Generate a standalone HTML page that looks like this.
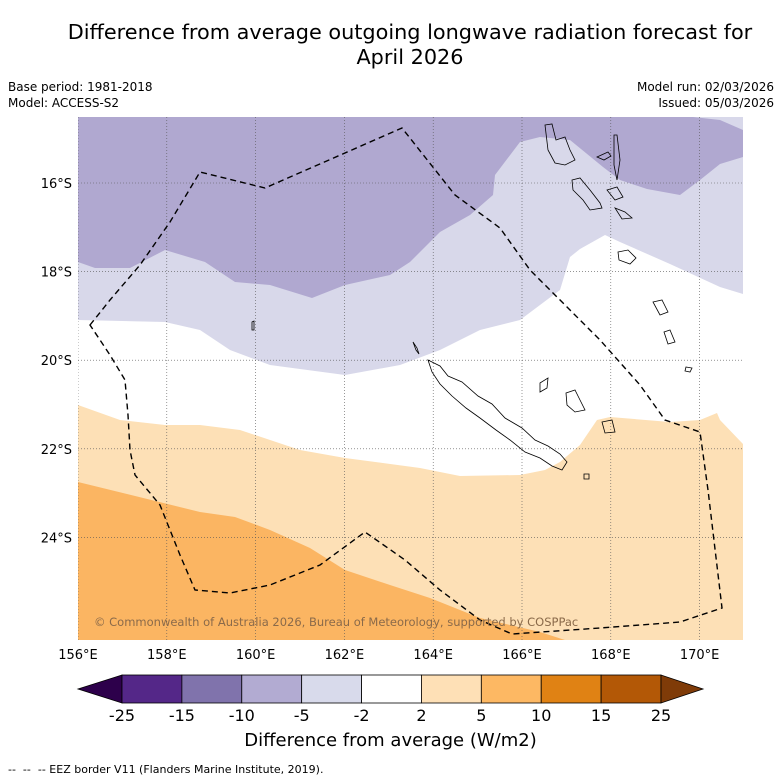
<!DOCTYPE html>
<html><head><meta charset="utf-8"><style>
body{margin:0;background:#fff;font-family:"DejaVu Sans",sans-serif;}
#wrap{position:relative;width:781px;height:781px;overflow:hidden;}
.t{position:absolute;white-space:nowrap;color:#000;}
</style></head><body>
<div id="wrap">
<div class="t" style="left:0;width:820px;top:20px;font-size:20.8px;text-align:center;line-height:25px;">Difference from average outgoing longwave radiation forecast for<br>April 2026</div>
<div class="t" style="left:8px;top:80px;font-size:12px;">Base period: 1981-2018</div>
<div class="t" style="left:8px;top:96px;font-size:12px;">Model: ACCESS-S2</div>
<div class="t" style="right:7px;top:80px;font-size:12px;">Model run: 02/03/2026</div>
<div class="t" style="right:7px;top:96px;font-size:12px;">Issued: 05/03/2026</div>
<svg id="svg" width="781" height="781" style="position:absolute;left:0;top:0">
<defs><clipPath id="mc"><rect x="78" y="117" width="665" height="523"/></clipPath></defs>
<g clip-path="url(#mc)">
<rect x="78" y="117" width="665" height="523" fill="#fff"/>
<path fill="#d8d8ea" d="M78,117 L743,117 L743,294 L720,287 L670,264 L620,242 L605,235 L580,249 L570,257 L560,290 L520,320 L480,330 L440,350 L400,365 L345,375 L270,365 L230,350 L200,330 L165,322 L78,320 Z"/>
<path fill="#b0a8d0" d="M78,117 L693,117 L720,120 L743,130 L743,157 L720,164 L700,180 L680,195 L647,189 L620,180 L603,167 L570,140 L540,137 L520,142 L495,175 L493,195 L470,215 L440,232 L410,262 L390,275 L345,285 L312,298 L270,285 L235,282 L205,262 L165,250 L130,268 L95,268 L78,262 Z"/>
<path fill="#fde0b6" d="M78,405 L120,420 L165,425 L200,425 L240,430 L300,450 L345,458 L420,468 L460,476 L520,475 L545,470 L560,462 L580,445 L597,420 L610,417 L670,422 L700,420 L717,413 L720,420 L743,444 L743,640 L78,640 Z"/>
<path fill="#fbb562" d="M78,482 L200,512 L235,517 L270,530 L310,548 L345,570 L390,585 L430,598 L480,618 L540,632 L565,640 L78,640 Z"/>
<g id="grid" stroke="#555" stroke-width="0.6" stroke-dasharray="1,2" fill="none"></g>
<g fill="none" stroke="#000" stroke-width="0.8">
<path d="M428,360 L440,366 L448,376 L462,382 L478,396 L492,404 L505,418 L522,428 L535,440 L548,446 L560,454 L567,462 L562,470 L552,466 L540,458 L525,452 L510,440 L496,430 L480,418 L466,408 L452,396 L440,384 L432,372 Z"/>
<path d="M545,125 L552,124 L556,140 L565,137 L570,150 L575,160 L565,165 L555,163 L548,150 Z"/>
<path d="M572,180 L580,178 L590,190 L600,203 L602,208 L590,210 L583,200 L573,190 Z"/>
<path d="M614,135 L617,135 L620,160 L617,180 L614,165 Z"/>
<path d="M597,157 L608,152 L611,156 L604,160 Z"/>
<path d="M607,190 L617,187 L623,197 L615,200 Z"/>
<path d="M615,208 L625,212 L632,218 L622,219 Z"/>
<path d="M618,252 L628,250 L636,258 L630,264 L619,260 Z"/>
<path d="M653,302 L662,300 L668,312 L660,315 Z"/>
<path d="M664,332 L670,330 L675,342 L668,344 Z"/>
<path d="M686,367 L692,368 L690,372 L685,371 Z"/>
<path d="M566,393 L575,390 L580,400 L585,410 L575,412 L567,405 Z"/>
<path d="M540,383 L548,378 L547,388 L540,392 Z"/>
<path d="M602,422 L612,420 L615,432 L605,433 Z"/>
<path d="M584,474 L589,474 L589,479 L584,479 Z"/>
<path d="M413,342 L417,348 L419,354 L416,350 Z"/>
<path d="M252,322 L254,321 L254,330 L252,330 Z"/>
</g>
<path fill="none" stroke="#000" stroke-width="1.4" stroke-dasharray="6,4" d="M90,325 L110,300 L140,265 L170,222 L200,172 L265,188 L402,128 L455,195 L500,228 L530,270 L570,310 L600,340 L640,385 L665,420 L700,432 L708,490 L722,608 L680,622 L600,628 L512,634 L480,620 L440,590 L405,560 L365,532 L320,565 L270,585 L230,593 L195,590 L180,555 L160,505 L135,475 L130,450 L128,415 L125,380 L110,355 Z"/>
<text x="94" y="626" font-size="11.5" fill="#8a6a4a" font-family="DejaVu Sans, sans-serif">© Commonwealth of Australia 2026, Bureau of Meteorology, supported by COSPPac</text>
</g>
<g id="axes" font-size="13" font-family="DejaVu Sans, sans-serif"></g>
<g id="cbar"></g>
</svg>
<div class="t" style="left:0;width:781px;text-align:center;top:730px;font-size:18px;">Difference from average (W/m2)</div>
<div class="t" style="left:8px;top:763px;font-size:11px;">--&nbsp; --&nbsp; -- EEZ border V11 (Flanders Marine Institute, 2019).</div>
</div>
<script>
const lonTicks=[156,158,160,162,164,166,168,170];
const latTicks=[16,18,20,22,24];
const levels=["-25","-15","-10","-5","-2","2","5","10","15","25"];
const colors=["#542788","#8073ac","#b2abd2","#d8daeb","#ffffff","#fee0b6","#fdb863","#e08214","#b35806"];
const extendLow="#2d004b", extendHigh="#7f3b08";
const NS="http://www.w3.org/2000/svg";
const x=lon=>78+(lon-156)*44.4;
const y=lat=>183+(lat-16)*44.3;
function mk(tag,at,parent){const e=document.createElementNS(NS,tag);for(const k in at)e.setAttribute(k,at[k]);parent.appendChild(e);return e;}
const grid=document.getElementById('grid'),axes=document.getElementById('axes'),cb=document.getElementById('cbar');
lonTicks.forEach(l=>{
 const ln=mk('line',{x1:x(l),x2:x(l),y1:117,y2:640},grid);
 
 
 const t=mk('text',{x:x(l),y:659,'text-anchor':'middle'},axes);t.textContent=l+'°E';
 
 
});
latTicks.forEach(l=>{
 const ln=mk('line',{x1:78,x2:743,y1:y(l),y2:y(l)},grid);
 
 
 const t=mk('text',{x:72,y:y(l)+5,'text-anchor':'end'},axes);t.textContent=l+'°S';
 
 
});
const bx0=122,bw=(661-122)/colors.length,by=675,bh=28;
const lo=mk('polygon',{points:`${bx0},${by} ${bx0},${by+bh} 78,${by+bh/2}`,fill:extendLow,stroke:'#000','stroke-width':0.8},cb);


colors.forEach((c,i)=>{
 const r=mk('rect',{x:bx0+i*bw,y:by,width:bw,height:bh,fill:c,stroke:'#000','stroke-width':0.8},cb);
 
 
});
const hi=mk('polygon',{points:`661,${by} 661,${by+bh} 703,${by+bh/2}`,fill:extendHigh,stroke:'#000','stroke-width':0.8},cb);


levels.forEach((v,i)=>{
 const t=mk('text',{x:bx0+i*bw,y:721,'text-anchor':'middle','font-size':16,'font-family':'DejaVu Sans, sans-serif'},cb);
 t.textContent=v;
 
 
});
</script>
</body></html>
